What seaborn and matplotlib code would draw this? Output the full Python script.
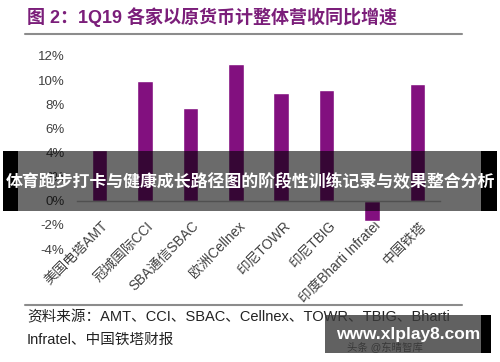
import matplotlib
matplotlib.use("Agg")
import matplotlib.pyplot as plt
import matplotlib.transforms as mtransforms
from matplotlib.patches import Rectangle
from matplotlib.lines import Line2D
from matplotlib.ticker import FixedLocator
import seaborn as sns

# ---- data ----
categories = ['美国电塔AMT', '冠城国际CCI', 'SBA通信SBAC', '欧洲Cellnex',
              '印尼TOWR', '印尼TBIG', '印度Bharti Infratel', '中国铁塔']
growth = [4.2, 9.9, 7.7, 11.3, 8.9, 9.2, -1.7, 9.7]
y_ticks = [-4, -2, 0, 2, 4, 6, 8, 10, 12]
y_tick_labels = ['-4%', '-2%', '0%', '2%', '4%', '6%', '8%', '10%', '12%']
title = '图 2：1Q19 各家以原货币计整体营收同比增速'
source_1 = '资料来源：AMT、CCI、SBAC、Cellnex、TOWR、TBIG、Bharti'
source_2 = 'Infratel、中国铁塔财报'
overlay_text = '体育跑步打卡与健康成长路径图的阶段性训练记录与效果整合分析'
watermark = 'www.xlplay8.com'
watermark_sub = '头条 @东晴智库'

sns.set_theme(style='white')
plt.rcParams['font.family'] = ['Liberation Sans', 'Noto Sans CJK SC', 'DejaVu Sans']

W, H = 500, 362
fig = plt.figure(figsize=(5, 3.62), dpi=100)
fig.patch.set_facecolor('white')

def fx(px):
    return px / W

def fy(py):
    return 1 - py / H

ax = fig.add_axes([fx(77), fy(249), fx(440) - fx(77), fy(56) - fy(249)])
sns.barplot(x=categories, y=growth, color='#82107F', saturation=1,
            width=0.34, ax=ax)
ax.set_xlim(-0.5, len(categories) - 0.5)
ax.set_ylim(-4, 12)
ax.set_yticks(y_ticks)
ax.set_yticklabels(y_tick_labels, fontsize=9.5, color='#404040')
ax.set_xlabel('')
ax.set_ylabel('')
for s in ['left', 'right', 'top']:
    ax.spines[s].set_visible(False)
ax.spines['bottom'].set_position(('data', 0))
ax.spines['bottom'].set_color('#bfbfbf')
ax.spines['bottom'].set_linewidth(1.0)
ax.tick_params(axis='y', length=0, pad=9)
ax.tick_params(axis='x', which='major', length=0, pad=13)
ax.xaxis.set_minor_locator(FixedLocator([i - 0.5 for i in range(len(categories) + 1)]))
ax.tick_params(axis='x', which='minor', length=4, color='#bfbfbf', direction='out', width=1)
ax.set_xticks(range(len(categories)))
ax.set_xticklabels(categories, fontsize=9.8, color='#404040', rotation=45,
                   ha='right', va='top', rotation_mode='anchor')
offset = mtransforms.ScaledTranslation(1 / 72, 0, fig.dpi_scale_trans)
for lab in ax.get_xticklabels():
    lab.set_transform(lab.get_transform() + offset)
ax.grid(False)

# ---- title and rules ----
fig.text(fx(27), fy(17), title, fontsize=13, fontweight='bold', color='#7B1E7A',
         va='center', ha='left')
fig.add_artist(Line2D([fx(25), fx(462)], [fy(34), fy(34)], color='#8c8c8c', lw=1.5))
fig.add_artist(Line2D([fx(25), fx(462)], [fy(305), fy(305)], color='#8c8c8c', lw=1.5))
fig.text(fx(27), fy(317), source_1, fontsize=10.5, color='#222222', va='center', ha='left')
fig.text(fx(27), fy(340), source_2, fontsize=10.5, color='#222222', va='center', ha='left')

# ---- overlay band ----
fig.add_artist(Rectangle((fx(3), fy(211)), fx(18) - fx(3), fy(151) - fy(211),
                         transform=fig.transFigure, facecolor='black', lw=0, zorder=10))
fig.add_artist(Rectangle((fx(481), fy(211)), fx(497) - fx(481), fy(151) - fy(211),
                         transform=fig.transFigure, facecolor='black', lw=0, zorder=10))
fig.add_artist(Rectangle((fx(18), fy(211)), fx(481) - fx(18), fy(151) - fy(211),
                         transform=fig.transFigure, facecolor='black', alpha=0.58, zorder=10,
                         lw=0))
fig.text(fx(250), fy(182), overlay_text, fontsize=12.2, fontweight='bold', color='white',
         ha='center', va='center', zorder=11,
         family=['Noto Sans CJK SC', 'DejaVu Sans'])

# ---- watermark ----
fig.text(fx(385), fy(348), watermark_sub, fontsize=7.5, color='#333333',
         ha='center', va='center', zorder=9)
fig.add_artist(Rectangle((fx(325), fy(353)), fx(481) - fx(325), fy(315) - fy(353),
                         transform=fig.transFigure, facecolor='#3a3a3a', alpha=0.8,
                         zorder=10, lw=0))
fig.add_artist(Rectangle((fx(481), fy(353)), fx(491) - fx(481), fy(315) - fy(353),
                         transform=fig.transFigure, facecolor='black', zorder=10, lw=0))
fig.text(fx(408), fy(335), watermark, fontsize=12.5, fontweight='bold', color='white',
         ha='center', va='center', zorder=11)

fig.savefig('out.png', dpi=100)
